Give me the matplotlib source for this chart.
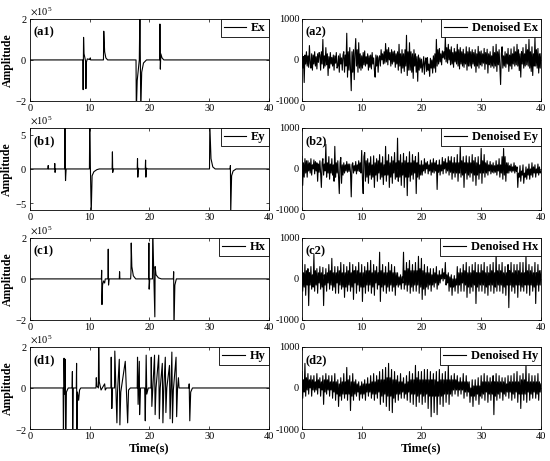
import numpy as np
import matplotlib
matplotlib.use("Agg")
import matplotlib.pyplot as plt

plt.rcParams['font.family'] = ['Liberation Serif', 'DejaVu Serif']
plt.rcParams['mathtext.fontset'] = 'stix'
plt.rcParams['axes.unicode_minus'] = False

# raw field components, spike keypoints (time s, amplitude in 1e5)
ex_t = [0, 8.85, 8.9, 8.97, 9.05, 9.3, 9.36, 9.45, 9.6, 10.0, 10.1, 10.15,
        12.3, 12.35, 12.5, 12.7, 13.0, 17.75, 17.8, 17.95, 18.3, 18.4, 18.55,
        18.7, 19.0, 19.5, 21.7, 21.75, 21.82, 21.9, 22.1, 22.4, 40]
ex_v = [0, 0, -1.45, 1.1, 0.3, -0.05, -1.4, -0.1, 0.05, 0.02, 0.1, 0,
        0, 1.4, 0.4, 0.1, 0, 0, -2.5, -1.0, 0, 2.5, -2.5,
        -0.6, -0.15, 0, 0, 1.75, -0.45, 0.3, 0.1, 0, 0]

ey_t = [0, 3.0, 3.05, 3.1, 4.1, 4.15, 4.2, 4.3, 5.8, 5.85, 5.9, 5.95, 6.05,
        9.95, 10.0, 10.1, 10.25, 10.4, 10.7, 11.2, 11.6, 13.75, 13.8, 13.85,
        13.95, 17.95, 18.0, 18.05, 18.15, 18.3, 19.3, 19.35, 19.4, 19.5, 19.7,
        30.05, 30.1, 30.3, 30.6, 31.0, 33.5, 33.55, 33.6, 33.75, 34.0, 34.5, 40]
ey_v = [0, 0, 0.5, 0, 0, 0.8, -0.5, 0, 0, 6.5, 0.6, -1.7, 0,
        0, 6.5, 1.0, -6.5, -1.0, -0.4, -0.1, 0, 0, 2.5, -0.5,
        0, 0, 1.5, -1.2, 0.1, 0, 0, 1.3, -1.2, 0.1, 0,
        0, 6.5, 1.5, 0.3, 0, 0, 0.5, -6.5, -1.0, -0.3, 0, 0]

hx_t = [0, 11.95, 12.0, 12.05, 12.15, 12.3, 12.5, 12.6, 13.05, 13.1, 13.15,
        13.25, 14.95, 15.0, 15.05, 16.85, 16.9, 16.95, 17.05, 17.3, 17.7,
        19.85, 19.9, 19.95, 20.05, 20.5, 20.55, 20.7, 20.9, 20.95, 21.1, 21.5,
        22.0, 24.0, 24.05, 24.1, 24.25, 24.5, 40]
hx_v = [0, 0, 0.42, -1.25, -0.3, -0.1, -0.2, 0, 0, 1.45, -0.3,
        0, 0, 0.35, 0, 0, 0.3, 1.75, 0.6, 0.15, 0,
        0, 1.75, -0.5, 0, 0, 2.5, 0.5, -1.85, 0.6, 0.2, 0.05,
        0, 0, 0.35, -2.5, -0.3, 0, 0]

hy_t = [0, 5.55, 5.6, 5.7, 5.8, 5.9, 5.98, 6.1, 6.4, 7.05, 7.1, 7.15, 7.25,
        7.75, 7.8, 7.85, 7.95, 8.15, 8.3, 8.5, 11.05, 11.1, 11.2, 11.45, 11.5,
        11.6, 11.9, 12.5, 12.6, 12.8, 13.55, 13.6, 13.7, 13.8, 14.15, 14.2,
        14.55, 14.65, 14.95, 15.05, 15.2, 15.95, 16.35, 16.5, 16.8, 17.95,
        18.0, 18.1, 18.3, 18.35, 18.5, 19.2, 19.3, 19.45, 19.55, 19.8, 20.25,
        20.3, 20.4, 20.85, 20.95, 21.1, 21.55, 21.65, 21.8, 22.15, 22.25,
        22.4, 22.65, 22.75, 22.9, 23.35, 23.45, 23.6, 23.75, 23.85, 24.0,
        24.45, 24.55, 24.7, 24.85, 24.95, 26.6, 26.65, 26.75, 26.9, 27.2, 40]
hy_v = [0, 0, -2.5, 1.45, -0.3, 1.4, -2.5, -0.2, 0, 0, 0.8, -2.5, 0,
        0, 1.2, -2.5, -0.2, -0.6, -0.1, 0, 0, 0.5, 0.1, 0, 2.5,
        0.3, -0.1, 0.2, -0.1, 0, 0, 1.5, -1.0, 0, 0, 1.8,
        -1.7, -0.2, 1.4, -1.8, -0.2, 1.3, -1.7, -0.1, 0, 0,
        1.5, -0.8, 1.3, -1.3, 0, 0, -1.6, 1.6, -0.3, 0, 0,
        1.5, -0.9, 1.6, -1.3, 0, 1.6, -1.5, 0, 1.2, -1.7,
        0, 1.5, -1.2, 0, 1.1, -1.5, 0, 1.75, -1.7, -0.1,
        1.5, -1.4, 0, 0.5, 0, 0, 0.2, -1.6, -0.2, 0, 0]

# denoised series, one sample every 0.125 s (8 per row = 1 s)
dex = [150, -200, 80, -550, 120, -100, 200, -150,
       100, -180, 350, -80, -200, 150, -250, 120,
       -100, 200, -150, 80, -220, 150, -60, 180,
       120, -250, 200, -100, 500, -200, 100, -150,
       300, -120, 150, -380, 80, -200, 180, -100,
       60, -150, 120, -250, 100, -80, 180, -200,
       -150, 100, -300, 150, -100, 50, -250, 120,
       200, -300, 120, -150, 650, -420, 200, -250,
       300, -200, -750, 200, -300, 250, -480, 150,
       520, -150, 250, -300, 420, -200, 150, -250,
       100, -200, 180, -120, 220, -150, 80, -100,
       150, -250, 100, -180, 120, -220, 180, -100,
       50, -250, -420, 120, -150, 100, -300, 50,
       100, -150, 250, 0, 150, -100, 200, -80,
       400, -50, 250, -120, 300, 0, 180, -150,
       250, -100, 200, -50, 220, -180, 150, -100,
       200, -250, 380, -150, 150, -320, 250, -200,
       150, -280, 250, -150, 600, -380, 200, -250,
       420, -250, 200, -300, 150, -450, 250, -150,
       150, -300, 80, -520, 120, -250, 50, -200,
       20, -300, -100, 80, -350, -50, 50, -280,
       60, -250, -100, -400, 40, -200, 0, -320,
       100, -200, 150, -300, 500, -150, 250, -100,
       280, -50, 150, -120, 220, 50, 200, 20,
       560, -50, 300, -80, 380, 0, 250, -120,
       320, -100, 180, -180, 280, -50, 200, -100,
       380, -150, 250, -220, 300, -100, 200, -150,
       260, -180, 150, -100, 320, -250, 200, -150,
       300, -150, 200, -200, 250, -100, 180, -150,
       250, -300, 150, -150, 330, -200, 200, -120,
       220, -150, 150, -80, 280, -230, 180, -100,
       260, -320, 150, -120, 200, -180, 100, -150,
       330, -200, 180, -150, 380, -280, 200, -120,
       250, -150, -600, 150, 320, -200, 100, -150,
       200, -180, 150, -100, 280, -280, 120, -150,
       270, -220, 150, -100, 320, -150, 200, -120,
       380, -150, 250, -260, 150, -420, 200, -100,
       300, -200, 150, -150, 380, -120, 250, -150,
       500, -200, 200, -280, 320, -380, 150, -150,
       540, -150, 250, -200, 280, -320, 150, -200,
       150]
dey = [300, -400, 150, -200, 250, -100, 200, -200,
       200, -50, 150, -100, 250, -150, 100, 0,
       220, -120, 180, -50, 150, -300, 120, -80,
       200, -100, -450, 150, 250, -150, 120, -50,
       600, -200, 150, -100, 300, -250, 120, -100,
       250, -150, 100, -300, 550, -200, 150, -100,
       200, -200, -600, 150, 280, -350, 100, -150,
       150, -100, 100, -50, 180, -80, 120, -60,
       120, -80, -680, 100, 150, -100, 80, -50,
       180, -120, 100, -50, 200, -60, 150, -100,
       450, -250, -600, 300, 400, -300, 200, -200,
       250, -350, 150, -150, 300, -250, 100, -200,
       320, -450, 150, -150, 250, -300, 200, -100,
       350, -250, 150, -200, 300, -380, 100, -150,
       550, -300, 200, -150, 350, -450, 150, -200,
       300, -350, 200, -100, 400, -250, 150, -200,
       750, -300, 200, -200, 350, -400, 150, -150,
       380, -450, 200, -200, 300, -650, 150, -200,
       420, -300, 150, -150, 350, -250, 200, -100,
       300, -600, 150, -200, 400, -250, 100, -150,
       200, -150, 100, -50, 250, -100, 150, 0,
       180, -120, 100, -50, 220, -150, 150, -80,
       250, -100, 150, -50, 200, -500, 100, -80,
       220, -150, 100, -50, 280, -120, 180, 0,
       250, -100, 150, -50, 300, -150, 200, -80,
       300, -250, 150, -100, 280, -200, 150, -100,
       350, -300, 150, -100, 550, -200, 200, -150,
       300, -450, 150, -100, 320, -250, 150, -150,
       300, -200, 150, -100, 350, -300, 200, -150,
       280, -400, 150, -150, 300, -250, 100, -100,
       500, -350, 200, -100, 350, -200, 150, -100,
       200, -150, 100, -50, 180, -120, 100, -80,
       150, -100, 80, -80, 200, -150, 100, -50,
       250, -200, 100, -100, 300, -250, 500, -150,
       300, -300, 150, -100, 150, -100, 80, -50,
       120, -80, 50, -50, 150, -100, 80, -60,
       50, -450, -100, -200, 80, -300, -50, -150,
       100, -350, -100, -200, 50, -250, 0, -150,
       120, -250, 0, -150, 150, -200, 50, -100,
       100, -200, 0, -100, 120, -150, 50, -100,
       -50]
dhx = [450, -300, 150, -200, 350, -400, 200, -150,
       250, -650, 150, -150, 300, -250, 100, -200,
       600, -300, 200, -150, 250, -350, 150, -100,
       300, -250, 150, -200, 280, -650, 100, -150,
       250, -300, 150, -100, 350, -250, 200, -150,
       500, -280, 150, -200, 300, -350, 150, -100,
       300, -350, 200, -150, 400, -250, 150, -200,
       350, -450, 150, -200, 300, -300, 200, -150,
       400, -300, 150, -200, 350, -500, 200, -100,
       300, -350, 200, -150, 400, -300, 150, -200,
       350, -550, 150, -200, 300, -350, 200, -150,
       400, -300, 200, -150, 450, -350, 150, -200,
       350, -400, 200, -100, 300, -250, 150, -150,
       650, -550, 200, -200, 350, -300, 150, -150,
       300, -350, 150, -200, 400, -300, 200, -150,
       350, -300, 150, -200, 300, -400, 150, -150,
       150, -200, 50, -150, 100, -250, 50, -100,
       650, -250, 200, -150, 400, -300, 250, -150,
       450, -350, 200, -200, 350, -300, 200, -150,
       400, -300, 200, -150, 550, -350, 250, -200,
       500, -500, 200, -250, 350, -400, 150, -200,
       300, -250, 150, -150, 250, -300, 100, -150,
       250, -200, 150, -100, 300, -250, 100, -150,
       200, -100, 100, 0, 250, -50, 150, 0,
       400, -150, 100, -100, 150, -300, 50, -200,
       100, -400, 0, -200, 80, -300, 0, -150,
       300, -350, 150, -150, 250, -300, 150, -100,
       350, -300, 200, -150, 400, -450, 150, -200,
       300, -350, 150, -200, 350, -300, 200, -150,
       400, -600, 150, -200, 350, -300, 150, -150,
       350, -300, 200, -150, 400, -350, 150, -200,
       300, -400, 150, -150, 350, -300, 200, -150,
       400, -350, 150, -200, 600, -300, 200, -150,
       350, -300, 200, -150, 400, -350, 150, -200,
       300, -400, 150, -150, 350, -700, 200, -150,
       400, -300, 150, -200, 350, -350, 200, -150,
       350, -450, 200, -150, 400, -300, 150, -200,
       400, -300, 150, -150, 550, -350, 200, -150,
       350, -400, 200, -150, 300, -300, 150, -200,
       400, -600, 150, -150, 350, -300, 200, -150,
       200]
dhy = [400, -250, 200, -100, 600, -200, 250, -50,
       350, -150, 200, 0, 300, -200, 200, -50,
       300, -100, 150, -50, 350, -150, 200, 0,
       250, -200, 150, -50, 300, -400, 200, -100,
       350, -150, 200, -50, 300, -200, 150, -50,
       300, -250, 150, -100, 350, -300, 150, -150,
       200, -450, 100, -200, 250, -300, 150, -150,
       350, -250, 150, -150, 500, -300, 200, -150,
       300, -550, 150, -200, 350, -300, 150, -150,
       200, -200, 100, -100, 150, -300, 50, -150,
       150, -250, 100, -150, 200, -300, 100, -100,
       250, -200, 100, -100, 300, -250, 150, -150,
       350, -300, 150, -150, 300, -250, 200, -100,
       400, -400, 200, -200, 450, -350, 200, -150,
       500, -450, 250, -200, 600, -550, 250, -200,
       450, -600, 200, -250, 400, -350, 200, -150,
       300, -300, 150, -150, 350, -250, 150, -100,
       250, -250, 100, -150, 300, -300, 150, -100,
       400, -350, 200, -150, 350, -400, 200, -150,
       550, -450, 250, -200, 400, -350, 200, -150,
       400, -400, 200, -200, 450, -350, 200, -150,
       450, -500, 200, -200, 400, -700, 200, -200,
       350, -600, 200, -200, 400, -650, 150, -200,
       450, -400, 200, -200, 350, -450, 200, -150,
       400, -350, 200, -150, 550, -400, 200, -150,
       300, -200, 200, -50, 350, -150, 200, -50,
       300, -200, 150, -50, 250, -150, 150, -50,
       350, -250, 150, -100, 300, -200, 150, -100,
       150, -350, 0, -200, 200, -450, 50, -200,
       200, -300, 50, -150, 250, -400, 50, -200,
       300, -250, 150, -150, 350, -300, 150, -100,
       300, -350, 150, -150, 250, -300, 150, -150,
       300, -650, 150, -200, 350, -300, 150, -150,
       300, -250, 150, -100, 250, -300, 150, -150,
       250, -200, 100, -100, 300, -250, 150, -100,
       300, -300, 150, -150, 350, -250, 150, -100,
       400, -350, 150, -150, 300, -500, 200, -150,
       350, -300, 200, -150, 550, -350, 150, -100,
       350, -300, 150, -150, 300, -250, 150, -100,
       300, -250, 150, -150, 350, -300, 150, -100,
       100]

raw = [(ex_t, ex_v, 'Ex', '(a1)', 2), (ey_t, ey_v, 'Ey', '(b1)', 6),
       (hx_t, hx_v, 'Hx', '(c1)', 2), (hy_t, hy_v, 'Hy', '(d1)', 2)]
den = [(dex, 'Denoised Ex', '(a2)'), (dey, 'Denoised Ey', '(b2)'),
       (dhx, 'Denoised Hx', '(c2)'), (dhy, 'Denoised Hy', '(d2)')]
yticks_left = [[-2, 0, 2], [-5, 0, 5], [-2, 0, 2], [-2, 0, 2]]

fig = plt.figure(figsize=(5.5, 4.61), dpi=100)
bottoms = [0.781, 0.5445, 0.306, 0.0694]
h = 0.178
w = 0.4345


def style(ax):
    ax.set_xlim(0, 40)
    ax.set_xticks([0, 10, 20, 30, 40])
    ax.tick_params(direction='in', top=True, right=True, length=2.5,
                   width=0.5, labelsize=7.5, pad=2)
    for s in ax.spines.values():
        s.set_linewidth(0.6)


def legend(ax):
    leg = ax.legend(loc='upper right', borderaxespad=0, fancybox=False,
                    edgecolor='black', framealpha=1, handlelength=1.8,
                    handletextpad=0.4, borderpad=0.25,
                    prop={'weight': 'bold', 'size': 9})
    leg.get_frame().set_linewidth(0.6)


for i in range(4):
    t, v, name, lab, lim = raw[i]
    ax = fig.add_axes([0.0545, bottoms[i], w, h])
    ax.plot(t, np.array(v) * 1e5, color='black', lw=0.8, label=name)
    style(ax)
    ax.set_ylim(-lim * 1e5, lim * 1e5)
    ax.set_yticks(np.array(yticks_left[i]) * 1e5)
    ax.ticklabel_format(axis='y', style='sci', scilimits=(0, 0), useMathText=True)
    ax.yaxis.get_offset_text().set_fontsize(7.5)
    ax.set_ylabel('Amplitude', fontweight='bold', fontsize=8.5, labelpad=1)
    ax.text(0.015, 0.84, lab, transform=ax.transAxes, fontweight='bold',
            fontsize=9, va='center')
    legend(ax)
    if i == 3:
        ax.set_xlabel('Time(s)', fontweight='bold', fontsize=9, labelpad=1)

    d, name2, lab2 = den[i]
    ax2 = fig.add_axes([0.549, bottoms[i], w, h])
    tt = np.arange(len(d)) * 0.125
    ax2.plot(tt, d, color='black', lw=0.8, label=name2)
    style(ax2)
    ax2.set_ylim(-1000, 1000)
    ax2.set_yticks([-1000, 0, 1000])
    ax2.text(0.015, 0.84, lab2, transform=ax2.transAxes, fontweight='bold',
             fontsize=9, va='center')
    legend(ax2)
    if i == 3:
        ax2.set_xlabel('Time(s)', fontweight='bold', fontsize=9, labelpad=1)

fig.savefig('out.png', dpi=100)
